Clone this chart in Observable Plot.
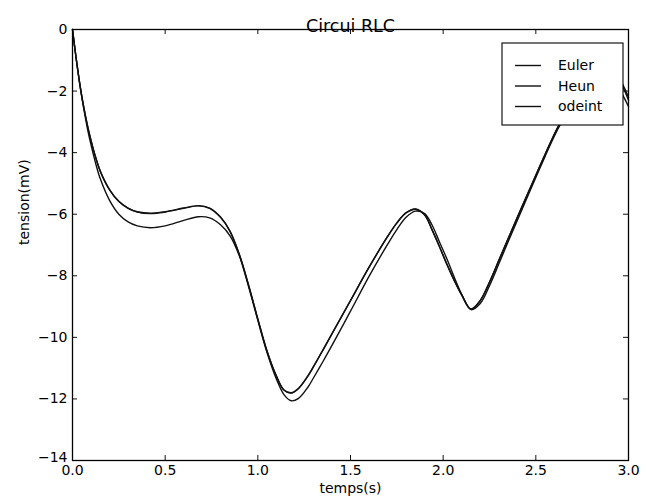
<!DOCTYPE html>
<html><head><meta charset="utf-8">
<script src="https://cdn.jsdelivr.net/npm/d3@7"></script>
<script src="https://cdn.jsdelivr.net/npm/@observablehq/plot@0.6"></script>
<style>body{margin:0;background:#fff} svg{display:block}</style>
</head><body><div id="chart"></div>
<script>
const title = "Circui RLC";
const xLabel = "temps(s)";
const yLabel = "tension(mV)";
const seriesNames = ["Euler", "Heun", "odeint"];
const xTicks = [0, 0.5, 1, 1.5, 2, 2.5, 3];
const yTicks = [0, -2, -4, -6, -8, -10, -12, -14];

const time = [0, 0.02, 0.04, 0.06, 0.08, 0.1, 0.125, 0.15, 0.2, 0.25, 0.3, 0.35, 0.42, 0.5, 0.6, 0.68, 0.74, 0.8, 0.85, 0.9, 0.95, 1.0, 1.05, 1.1, 1.14, 1.18, 1.22, 1.27, 1.3, 1.35, 1.4, 1.5, 1.6, 1.7, 1.75, 1.8, 1.85, 1.9, 1.94, 1.98, 2.02, 2.06, 2.1, 2.15, 2.2, 2.25, 2.3, 2.35, 2.4, 2.47, 2.55, 2.62, 2.7, 2.8, 2.88, 2.94, 3.0];
const euler = [0, -0.95, -1.8, -2.55, -3.2, -3.75, -4.35, -4.85, -5.55, -6.0, -6.25, -6.38, -6.44, -6.38, -6.2, -6.08, -6.12, -6.35, -6.7, -7.35, -8.35, -9.45, -10.5, -11.35, -11.85, -12.06, -11.98, -11.62, -11.32, -10.8, -10.26, -9.15, -8.02, -6.98, -6.5, -6.1, -5.9, -5.98, -6.35, -6.9, -7.45, -8.05, -8.6, -9.1, -8.9, -8.32, -7.62, -6.9, -6.2, -5.22, -4.12, -3.22, -2.42, -1.7, -1.5, -1.85, -2.5];
const heun = [0, -0.95, -1.8, -2.5, -3.1, -3.6, -4.15, -4.6, -5.2, -5.58, -5.8, -5.92, -5.97, -5.92, -5.8, -5.72, -5.8, -6.1, -6.55, -7.3, -8.3, -9.4, -10.45, -11.25, -11.7, -11.8, -11.65, -11.25, -10.95, -10.42, -9.88, -8.8, -7.72, -6.72, -6.28, -5.95, -5.83, -6.02, -6.5, -7.05, -7.62, -8.15, -8.62, -9.08, -8.8, -8.2, -7.5, -6.8, -6.1, -5.14, -4.05, -3.15, -2.3, -1.5, -1.25, -1.5, -2.2];
const odeint = [0, -0.95, -1.8, -2.5, -3.1, -3.61, -4.16, -4.61, -5.21, -5.59, -5.81, -5.93, -5.98, -5.93, -5.81, -5.73, -5.81, -6.11, -6.56, -7.31, -8.31, -9.41, -10.46, -11.26, -11.71, -11.81, -11.66, -11.26, -10.96, -10.43, -9.89, -8.81, -7.73, -6.73, -6.29, -5.96, -5.84, -6.03, -6.51, -7.06, -7.63, -8.16, -8.63, -9.09, -8.81, -8.21, -7.51, -6.81, -6.11, -5.15, -4.06, -3.16, -2.31, -1.51, -1.27, -1.55, -2.3];

const rows = [];
[euler, heun, odeint].forEach((vals, i) =>
  time.forEach((t, j) => rows.push({series: seriesNames[i], t, v: vals[j]}))
);

const W = 646, H = 503, mL = 72, mR = 18, mT = 29, mB = 43;
const iw = W - mL - mR, ih = H - mT - mB;
const font = "'DejaVu Sans', sans-serif";
const ink = "#111";
const yMin = d3.min(yTicks);

const svg = Plot.plot({
  width: W, height: H,
  marginLeft: mL, marginRight: mR, marginTop: mT, marginBottom: mB,
  style: {fontFamily: font, fontSize: "14px", background: "#fff", color: "#000", overflow: "visible"},
  x: {domain: [0, 3]},
  y: {domain: [-14, 0]},
  marks: [
    Plot.axisX({ticks: xTicks, tickSize: 0, tickPadding: 5, tickFormat: d3.format(".1f"), fontSize: 14, label: null}),
    Plot.axisY({ticks: yTicks.filter(d => d !== yMin), tickSize: 0, tickPadding: 5, tickFormat: d3.format("d"), fontSize: 14, label: null}),
    Plot.axisY({ticks: [yMin], tickSize: 0, tickPadding: 5, tickFormat: d3.format("d"), fontSize: 14, label: null, dy: -3}),
    Plot.tickX(xTicks, {x: d => d, insetTop: ih - 5, stroke: ink}),
    Plot.tickX(xTicks, {x: d => d, insetBottom: ih - 5, stroke: ink}),
    Plot.tickY(yTicks, {y: d => d, insetRight: iw - 5, stroke: ink}),
    Plot.tickY(yTicks, {y: d => d, insetLeft: iw - 5, stroke: ink}),
    Plot.line(rows, {x: "t", y: "v", z: "series", stroke: ink, strokeWidth: 1.4, curve: "catmull-rom"}),
    Plot.frame({stroke: "#000", strokeWidth: 1.3}),
    Plot.text([title], {frameAnchor: "top", dy: -10, fontSize: 17.5, fill: "#000"}),
    Plot.text([xLabel], {frameAnchor: "bottom", dy: 32, fontSize: 14, fill: "#000"}),
    Plot.text([yLabel], {frameAnchor: "left", dx: -47.5, rotate: -90, fontSize: 14, fill: "#000"})
  ]
});

// legend box (upper right), entries drawn from seriesNames
const lg = d3.select(svg).append("g")
  .attr("font-family", font).attr("font-size", 14).attr("text-anchor", "start");
lg.append("rect").attr("x", 502).attr("y", 43).attr("width", 121).attr("height", 82)
  .attr("fill", "#fff").attr("stroke", "#000").attr("stroke-width", 1.1);
seriesNames.forEach((name, i) => {
  const y = 65.5 + i * 20.5;
  lg.append("line").attr("x1", 515).attr("x2", 541).attr("y1", y).attr("y2", y)
    .attr("stroke", ink).attr("stroke-width", 1.4);
  lg.append("text").attr("x", 558).attr("y", y).attr("dy", "0.35em")
    .attr("text-anchor", "start").attr("fill", "#000").text(name);
});

document.getElementById("chart").appendChild(svg);
</script>
</body></html>
